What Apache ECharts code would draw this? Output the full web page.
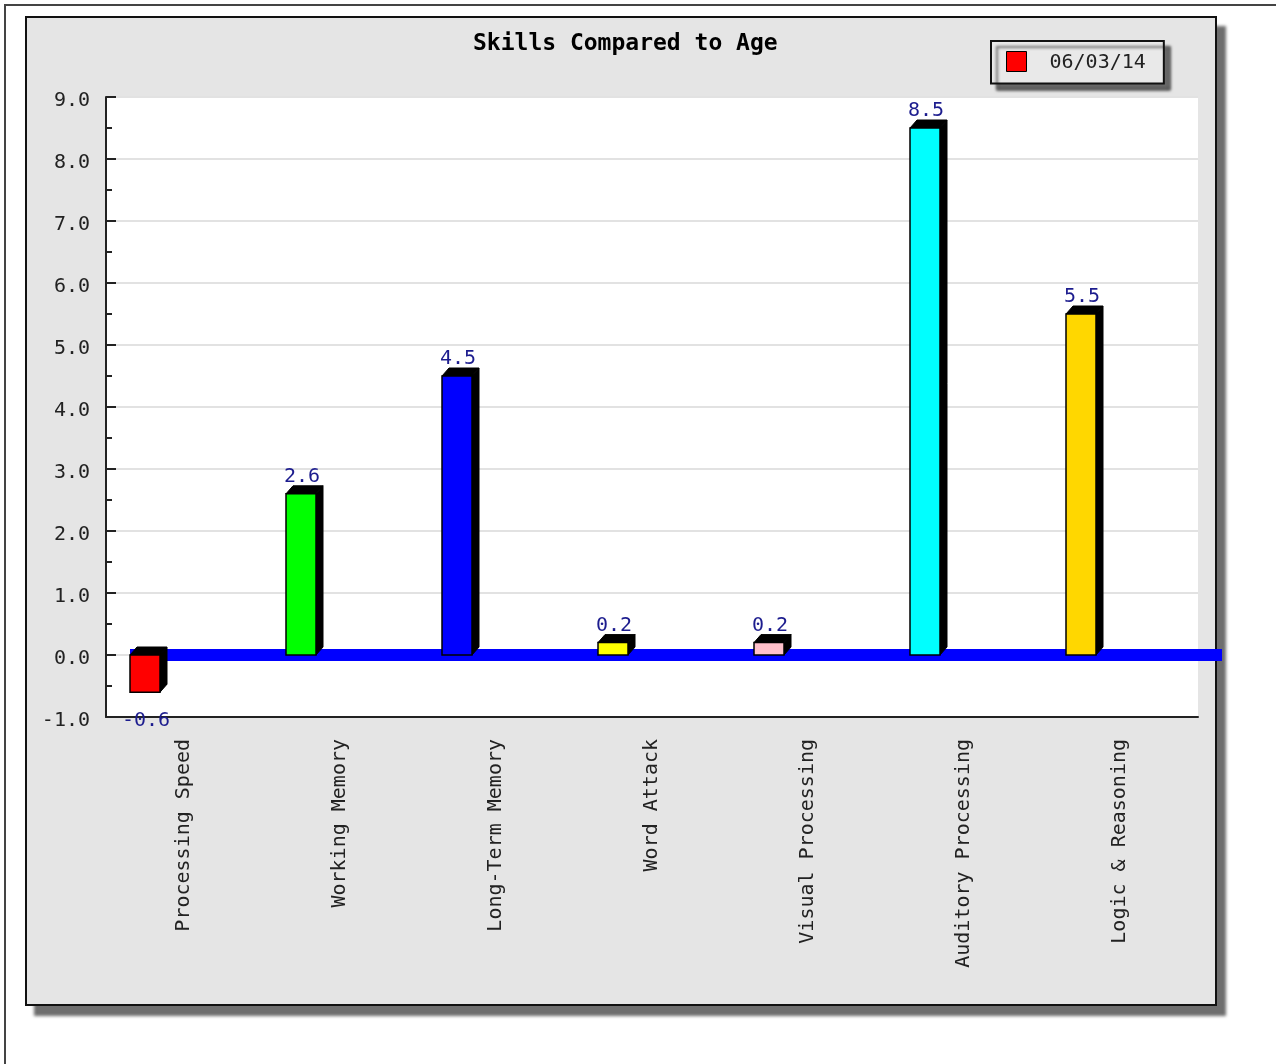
<!DOCTYPE html>
<html>
<head>
<meta charset="utf-8">
<script src="https://cdn.jsdelivr.net/npm/echarts@6/dist/echarts.min.js"></script>
<style>
  html, body { margin: 0; padding: 0; background: #ffffff; width: 1276px; height: 1064px; overflow: hidden; }
  #frame { position: absolute; left: 4px; top: 4px; width: 1400px; height: 1200px; border-left: 2px solid #444; border-top: 2px solid #444; }
  #panel { position: absolute; left: 25px; top: 16px; width: 1192px; height: 990px; box-sizing: border-box; border: 2px solid #111; background: #e5e5e5; box-shadow: 9px 10px 3px #6e6e6e; }
  #chart { position: absolute; left: 0; top: 0; width: 1276px; height: 1064px; }
</style>
</head>
<body>
<div id="frame"></div>
<div id="panel"></div>
<div id="chart"></div>
<script>
// ---- data ----
const categories = ['Processing Speed', 'Working Memory', 'Long-Term Memory', 'Word Attack', 'Visual Processing', 'Auditory Processing', 'Logic & Reasoning'];
const values = [-0.6, 2.6, 4.5, 0.2, 0.2, 8.5, 5.5];
const barColors = ['#ff0000', '#00ff00', '#0000ff', '#ffff00', '#ffc0cb', '#00ffff', '#ffd700'];
const seriesName = '06/03/14';
const titleText = 'Skills Compared to Age';
const yMin = -1, yMax = 9, yStep = 1;
const baseline = [0];

const FONT = 'DejaVu Sans Mono';
const chart = echarts.init(document.getElementById('chart'), null, { renderer: 'canvas' });

function renderBar(params, api) {
  const idx = api.value(0);
  const v = api.value(1);
  const band = api.size([1, 0])[0];
  const p = api.coord([idx, v]);
  const p0 = api.coord([idx, 0]);
  const cx = p[0] - band * 0.25;
  const w = 30, dx = 7, dy = 8;
  const x0 = cx - w / 2, x1 = cx + w / 2;
  const yt = Math.min(p[1], p0[1]);
  const yb = Math.max(p[1], p0[1]);
  const children = [
    { type: 'polygon', shape: { points: [[x0, yt], [x0 + dx, yt - dy], [x1 + dx, yt - dy], [x1, yt]] }, style: { fill: '#000', stroke: '#000', lineWidth: 1 } },
    { type: 'polygon', shape: { points: [[x1, yt], [x1 + dx, yt - dy], [x1 + dx, yb - dy], [x1, yb]] }, style: { fill: '#000', stroke: '#000', lineWidth: 1 } },
    { type: 'rect', shape: { x: x0, y: yt, width: w, height: yb - yt }, style: { fill: barColors[idx], stroke: '#000', lineWidth: 1.5 } },
    { type: 'text', style: {
        text: v.toFixed(1), x: cx + 1, y: v >= 0 ? yt - dy + 1 : yb + 19,
        textAlign: 'center', textVerticalAlign: v >= 0 ? 'bottom' : 'top',
        fill: '#1c1c8e', font: '20px "' + FONT + '"' } }
  ];
  return { type: 'group', children: children };
}

function renderBaseline(params, api) {
  const cs = params.coordSys;
  const band = api.size([1, 0])[0];
  const y = api.coord([0, api.value(0)])[1];
  const off = band * 0.25 - 15;
  return { type: 'rect', shape: { x: cs.x + off, y: y - 6, width: cs.width, height: 12 }, style: { fill: '#0000ff' } };
}

chart.setOption({
  animation: false,
  backgroundColor: 'transparent',
  title: {
    text: titleText,
    left: 473, top: 33, padding: 0,
    textStyle: { fontFamily: FONT, fontSize: 23, fontWeight: 'bold', color: '#000' }
  },
  legend: {
    left: 991, top: 41,
    padding: [10, 18, 11, 15],
    backgroundColor: '#e9e9e9',
    borderColor: '#111', borderWidth: 2,
    shadowColor: 'rgba(0,0,0,0.55)', shadowBlur: 3, shadowOffsetX: 6, shadowOffsetY: 6,
    itemWidth: 20, itemHeight: 20,
    data: [{ name: seriesName, icon: 'rect', itemStyle: { color: '#ff0000', borderColor: '#000', borderWidth: 1 } }],
    formatter: function (n) { return '{t|' + n + '}'; },
    textStyle: { fontFamily: FONT, fontSize: 20, color: '#222', rich: { t: { fontFamily: FONT, fontSize: 20, color: '#222', padding: [2, 0, 0, 18] } } }
  },
  grid: { left: 106, top: 97, right: 78, bottom: 347, show: true, backgroundColor: '#ffffff', borderWidth: 0, containLabel: false },
  xAxis: {
    type: 'category',
    data: categories,
    boundaryGap: true,
    axisLine: { show: true, onZero: false, lineStyle: { color: '#222', width: 2 } },
    axisTick: { show: false },
    axisLabel: { interval: 0, rotate: 90, margin: 22, fontFamily: FONT, fontSize: 20, color: '#222' },
    splitLine: { show: false }
  },
  yAxis: {
    type: 'value',
    min: yMin, max: yMax, interval: yStep,
    axisLine: { show: true, lineStyle: { color: '#222', width: 2 } },
    axisTick: { show: true, inside: true, length: 10, lineStyle: { color: '#222', width: 2 } },
    minorTick: { show: true, splitNumber: 2, length: 6, lineStyle: { color: '#222', width: 2 } },
    minorSplitLine: { show: false },
    axisLabel: {
      margin: 16, fontFamily: FONT, fontSize: 20, color: '#222',
      formatter: function (v) { return '{n|' + v.toFixed(1) + '}'; },
      rich: { n: { fontFamily: FONT, fontSize: 20, color: '#222', padding: [7, 0, 0, 0] } }
    },
    splitLine: { show: true, lineStyle: { color: '#e2e2e2', width: 2 } }
  },
  series: [
    {
      type: 'custom', name: 'zero', z: 2, clip: false, silent: true,
      renderItem: renderBaseline,
      data: baseline.map(function (b) { return [b]; }),
      encode: { y: 0 }
    },
    {
      type: 'custom', name: seriesName, z: 3, clip: false,
      itemStyle: { color: '#ff0000' },
      renderItem: renderBar,
      data: values.map(function (v, i) { return [i, v]; }),
      encode: { x: 0, y: 1 }
    }
  ]
});
</script>
</body>
</html>
